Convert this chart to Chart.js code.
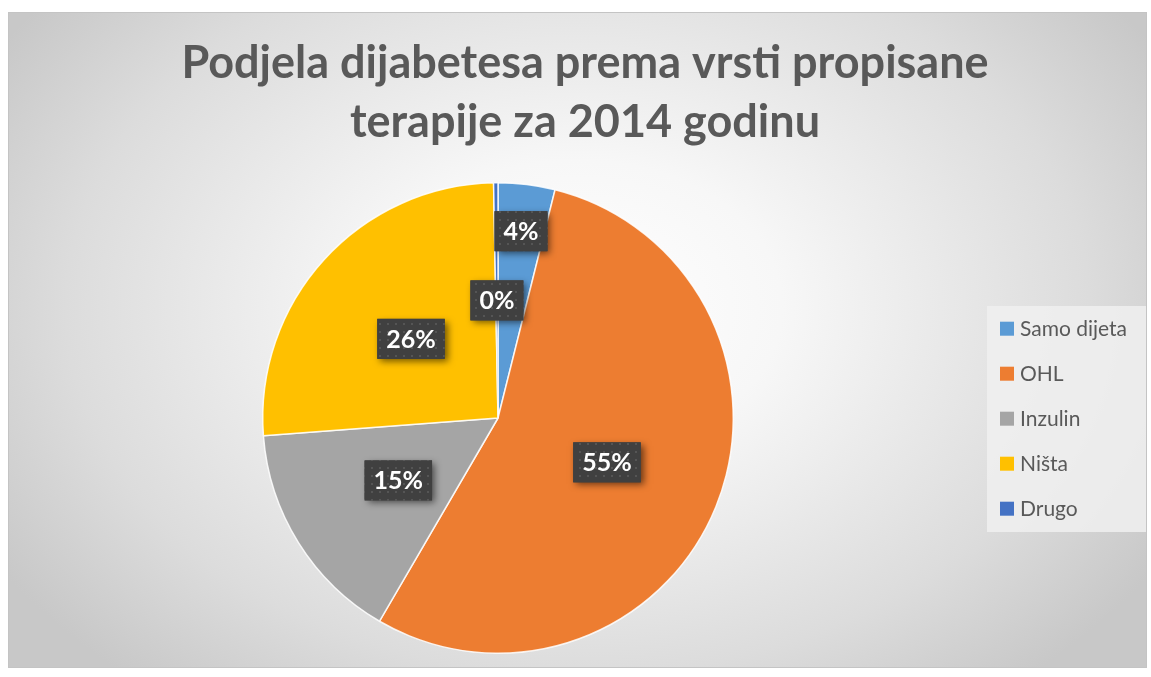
<!DOCTYPE html>
<html>
<head>
<meta charset="utf-8">
<script src="https://cdn.jsdelivr.net/npm/chart.js@4.4.1/dist/chart.umd.min.js"></script>
<style>
  html, body { margin: 0; padding: 0; background: #fff; }
  #frame {
    position: absolute; left: 8px; top: 12px; width: 1137px; height: 654px;
    border: 1px solid #c4c4c4;
    background: radial-gradient(ellipse 60% 75% at 50% 45%, #ffffff 0%, #f7f7f7 30%, #dcdcdc 75%, #c8c8c8 100%);
  }
  #wrap { position: absolute; left: 0; top: 0; width: 1151px; height: 677px; }
</style>
</head>
<body>
<div id="frame"></div>
<div id="wrap"><canvas id="pieChart"></canvas></div>
<script>
const titleLines = ['Podjela dijabetesa prema vrsti propisane', 'terapije za 2014 godinu'];
const categories = ['Samo dijeta', 'OHL', 'Inzulin', 'Ništa', 'Drugo'];
const shares = [3.9, 54.5, 15.4, 25.9, 0.3];
const colors = ['#5B9BD5', '#ED7D31', '#A5A5A5', '#FFC000', '#4472C4'];

// how far out (fraction of radius) each data label sits
const labelRadius = [0.8, 0.5, 0.5, 0.5, 0.5];

const total = shares.reduce((a, b) => a + b, 0);

function makeDots() {
    const c = document.createElement('canvas');
    c.width = 8; c.height = 8;
    const g = c.getContext('2d');
    g.fillStyle = '#404040';
    g.fillRect(0, 0, 8, 8);
    g.fillStyle = '#555555';
    g.fillRect(3, 3, 2, 2);
    return c;
}

const decor = {
    id: 'decor',
    afterDraw(chart) {
        const ctx = chart.ctx;
        ctx.save();

        // title
        ctx.fillStyle = '#595959';
        ctx.font = 'bold 45px Lato';
        ctx.textAlign = 'center';
        ctx.textBaseline = 'alphabetic';
        titleLines.forEach((t, i) => ctx.fillText(t, 585, 78 + i * 59));

        // legend
        ctx.fillStyle = 'rgba(240,240,240,0.85)';
        ctx.fillRect(987, 306, 159, 226);
        ctx.font = '21px Lato';
        ctx.textAlign = 'left';
        ctx.textBaseline = 'middle';
        categories.forEach((name, i) => {
            const y = 328.7 + i * 45;
            ctx.fillStyle = colors[i];
            ctx.fillRect(1000, y - 7, 14, 14);
            ctx.fillStyle = '#595959';
            ctx.fillText(name, 1020, y + 1);
        });

        // data labels
        const pattern = ctx.createPattern(makeDots(), 'repeat');
        const arcs = chart.getDatasetMeta(0).data;
        ctx.font = 'bold 25px Lato';
        ctx.textAlign = 'center';
        arcs.forEach((arc, i) => {
            const p = arc.getProps(['x', 'y', 'startAngle', 'endAngle', 'outerRadius'], true);
            const mid = (p.startAngle + p.endAngle) / 2;
            const r = p.outerRadius * labelRadius[i];
            const cx = p.x + Math.cos(mid) * r;
            const cy = p.y + Math.sin(mid) * r;
            const text = Math.round(shares[i] / total * 100) + '%';
            const w = ctx.measureText(text).width + 18;
            const h = 40;
            ctx.save();
            ctx.shadowColor = 'rgba(0,0,0,0.55)';
            ctx.shadowBlur = 7;
            ctx.shadowOffsetX = 3;
            ctx.shadowOffsetY = 3;
            ctx.fillStyle = '#404040';
            ctx.fillRect(cx - w / 2, cy - h / 2, w, h);
            ctx.restore();
            ctx.fillStyle = pattern;
            ctx.fillRect(cx - w / 2, cy - h / 2, w, h);
            ctx.fillStyle = '#ffffff';
            ctx.fillText(text, cx, cy + 1);
        });
        ctx.restore();
    }
};

new Chart(
    document.getElementById('pieChart'),
    {
        type: 'pie',
        data: {
            labels: categories,
            datasets: [{
                data: shares,
                backgroundColor: colors,
                borderColor: 'rgba(255,255,255,0.85)',
                borderWidth: 1.5
            }]
        },
        options: {
            responsive: true,
            maintainAspectRatio: false,
            animation: false,
            layout: { padding: { left: 262, right: 417, top: 182, bottom: 23 } },
            plugins: {
                legend: { display: false },
                title: { display: false },
                tooltip: { enabled: false }
            }
        },
        plugins: [decor]
    }
);
</script>
</body>
</html>
